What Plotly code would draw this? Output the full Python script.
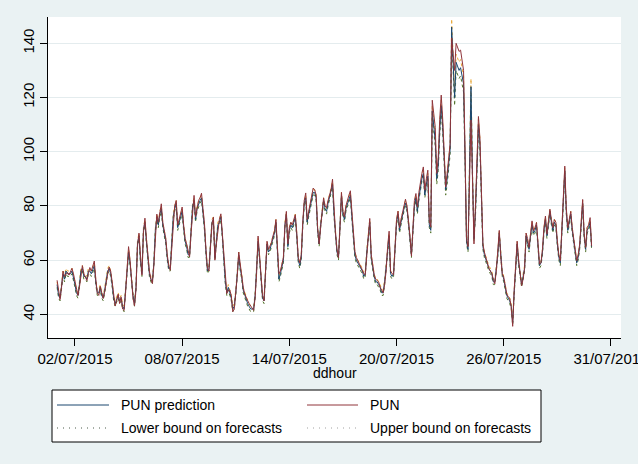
import plotly.graph_objects as go

# ---------------- data ----------------
# PUN and prediction, every 2 hours from 01/07/2015 00:00 (hour 0)
pun = [
    52.6, 48, 45.5, 50, 56, 54, 55, 55.5, 54.5, 56, 57, 55,
    52, 49.5, 47, 50, 55, 58, 55, 53.5, 52.5, 55, 57.3, 56,
    58, 59.7, 53, 48, 47, 50.4, 48, 45.9, 48.5, 52.6, 55, 57.5,
    56, 52, 47, 43.1, 45, 47.5, 44, 46.5, 42, 41.5, 48, 57,
    65, 60, 53.8, 46, 43.1, 49, 65, 70, 62, 54.5, 70, 75.5,
    68, 60, 56, 53, 51.4, 58, 70, 77, 74, 78, 80.8, 74,
    71, 68, 62, 58, 56.3, 65, 75, 80, 82, 73, 75, 78,
    79.6, 73, 68, 66, 63, 61.2, 70, 79, 83.9, 76, 80, 82,
    83, 84.7, 79, 73.5, 64, 57, 56, 65, 73, 75.9, 60, 66,
    72, 75, 77.1, 70, 61, 53, 47.7, 49, 49, 47, 41, 42,
    47, 54, 63, 58, 54.9, 50, 47.6, 46, 45.1, 44, 43, 42,
    41.5, 46, 55, 68.9, 62, 55, 47, 45, 58, 67, 64, 65,
    66.5, 69, 70.7, 75, 66, 55, 56, 58, 61, 72, 78, 66,
    72, 74, 73, 75, 76.8, 70, 61, 59, 62, 74, 82, 84.8,
    75, 78, 80.5, 84, 86.6, 86, 84, 72, 66, 72, 79, 83,
    80, 79.4, 82, 84.3, 86, 89.9, 78, 70, 64, 60.9, 72, 85,
    78, 76, 80, 82.5, 84, 85.6, 77, 70, 63.3, 61, 59.6, 58.5,
    57.5, 56.5, 55, 54.7, 62, 71, 75.4, 62, 58, 54.5, 53, 52.5,
    52, 50, 49, 48, 51, 56, 65, 70.7, 56, 55, 54.7, 65,
    75, 78.1, 72, 75, 78, 80, 82.5, 80, 75, 69, 61.5, 70,
    82, 84.6, 79.7, 85, 89.5, 92, 94.4, 85.8, 90, 93.2, 74.7, 72.3,
    119, 114, 109, 92, 98, 112, 120.9, 112, 100, 87, 92, 96.9,
    103, 142, 135, 130, 140, 138, 137, 137.5, 132.6, 130, 100, 68,
    65, 87, 111.7, 90, 66, 80, 97, 113, 105, 80, 66, 63,
    61, 58.5, 57, 56, 55, 53, 51.3, 56, 63, 71, 61, 55,
    53.7, 51, 47.6, 46.5, 46, 43, 35.6, 48.8, 60, 67, 60, 56,
    50.6, 53, 57, 70, 68, 64.7, 70, 74.5, 70.8, 72, 73.9, 65,
    58.6, 59, 64, 72, 76.3, 69.6, 74, 78.8, 75, 72, 75, 74,
    67.1, 62, 59.8, 72, 88, 94.7, 79.4, 72, 75, 78, 72, 68,
    62.3, 59.8, 62, 65.9, 74, 82.4, 70, 64.7, 72, 73, 75.7, 65.3,
]
pun_prediction = [
    51, 47, 46, 51, 55, 53, 56, 55, 55, 55, 56, 54,
    51, 48, 47, 51, 56, 57, 54, 54, 53, 56, 56, 55,
    57, 58, 52, 48, 48, 50, 47, 46, 49, 53, 56, 57,
    55, 51, 46, 44, 46, 47, 45, 46, 43, 42, 49, 58,
    63, 59, 52, 47, 44, 50, 66, 69, 60, 55, 71, 74,
    67, 59, 55, 53, 52, 59, 71, 76, 73, 77, 79, 73,
    70, 67, 61, 57, 57, 66, 76, 79, 81, 72, 74, 77,
    78, 72, 67, 65, 62, 62, 71, 80, 82, 75, 79, 81,
    82, 83, 78, 72, 63, 56, 57, 66, 74, 75, 61, 67,
    73, 74, 76, 69, 60, 52, 48, 50, 48, 46, 42, 43,
    48, 55, 62, 57, 54, 49, 47, 46, 44, 43, 42, 42,
    42, 47, 56, 67, 61, 54, 46, 45, 59, 66, 63, 64,
    66, 68, 70, 74, 65, 53, 55, 57, 60, 73, 77, 65,
    71, 73, 72, 74, 76, 69, 60, 58, 61, 73, 81, 83,
    74, 77, 80, 83, 85, 85, 83, 71, 66, 73, 78, 82,
    79, 78, 81, 83, 86, 88, 77, 69, 63, 61, 71, 84,
    77, 75, 79, 81, 83, 84, 76, 69, 62, 60, 59, 58,
    57, 56, 54, 55, 63, 70, 74, 61, 57, 54, 52, 52,
    51, 50, 48, 48, 52, 57, 64, 69, 55, 54, 55, 66,
    74, 77, 71, 74, 77, 79, 81, 79, 74, 68, 62, 71,
    80, 83, 78, 83, 87, 90, 92, 84, 88, 91, 73, 71,
    115, 110, 104, 90, 95, 108, 117, 109, 97, 86, 90, 95,
    101, 146, 130, 120, 133, 131, 130, 131, 127, 125, 98, 67,
    64, 90, 124, 92, 68, 78, 95, 110, 103, 79, 65, 62,
    60, 58, 57, 56, 55, 52, 52, 57, 62, 70, 60, 55,
    53, 50, 47, 46, 45, 43, 37, 48, 59, 66, 59, 55,
    51, 54, 57, 69, 67, 64, 69, 73, 70, 71, 73, 64,
    58, 59, 63, 71, 75, 69, 73, 78, 74, 71, 74, 73,
    66, 61, 59, 71, 86, 93, 78, 71, 74, 77, 71, 67,
    61, 59, 61, 65, 73, 81, 69, 64, 71, 72, 74, 65,
]
lower_bound = [
    50, 46, 45, 50, 54, 52, 55, 54, 54, 54, 55, 53,
    50, 47, 46, 50, 55, 56, 53, 53, 52, 55, 55, 54,
    56, 57, 51, 47, 47, 49, 46, 45, 48, 52, 55, 56,
    54, 50, 45, 43, 45, 46, 44, 45, 42, 41, 48, 57,
    62, 58, 51, 46, 43, 49, 65, 68, 59, 54, 70, 73,
    66, 58, 54, 52, 51, 58, 70, 75, 72, 76, 78, 72,
    69, 66, 60, 56, 56, 65, 75, 78, 80, 71, 73, 76,
    77, 71, 66, 64, 61, 61, 70, 79, 81, 74, 78, 80,
    81, 82, 77, 71, 62, 55, 56, 65, 73, 74, 60, 66,
    72, 73, 75, 68, 59, 51, 47, 49, 47, 45, 41, 42,
    47, 54, 61, 56, 53, 48, 46, 45, 43, 42, 41, 41,
    41, 46, 55, 66, 60, 53, 45, 44, 58, 65, 62, 63,
    65, 67, 69, 73, 64, 52, 54, 56, 59, 72, 76, 64,
    70, 72, 71, 73, 75, 68, 59, 57, 60, 72, 80, 82,
    73, 76, 79, 82, 84, 84, 82, 70, 65, 72, 77, 81,
    78, 77, 80, 82, 85, 87, 76, 68, 62, 60, 70, 83,
    76, 74, 78, 80, 82, 83, 75, 68, 61, 59, 58, 57,
    56, 55, 53, 54, 62, 69, 73, 60, 56, 53, 51, 51,
    50, 49, 47, 47, 51, 56, 63, 68, 54, 53, 54, 65,
    73, 76, 70, 73, 76, 78, 80, 78, 73, 67, 61, 70,
    79, 82, 77, 82, 86, 89, 91, 83, 87, 90, 72, 70,
    113, 108, 102, 88, 93, 106, 115, 107, 95, 84, 88, 93,
    99, 143, 127, 117, 130, 128, 127, 128, 124, 122, 96, 66,
    63, 88, 121, 90, 67, 76, 93, 108, 101, 77, 64, 61,
    59, 57, 56, 55, 54, 51, 51, 56, 61, 69, 59, 54,
    52, 49, 46, 45, 44, 42, 36, 47, 58, 65, 58, 54,
    50, 53, 56, 68, 66, 63, 68, 72, 69, 70, 72, 63,
    57, 58, 62, 70, 74, 68, 72, 77, 73, 70, 73, 72,
    65, 60, 58, 70, 85, 92, 77, 70, 73, 76, 70, 66,
    60, 58, 60, 64, 72, 80, 68, 63, 70, 71, 73, 64,
]
upper_bound = [
    52, 48, 47, 52, 56, 54, 57, 56, 56, 56, 57, 55,
    52, 49, 48, 52, 57, 58, 55, 55, 54, 57, 57, 56,
    58, 59, 53, 49, 49, 51, 48, 47, 50, 54, 57, 58,
    56, 52, 47, 45, 47, 48, 46, 47, 44, 43, 50, 59,
    64, 60, 53, 48, 45, 51, 67, 70, 61, 56, 72, 75,
    68, 60, 56, 54, 53, 60, 72, 77, 74, 78, 80, 74,
    71, 68, 62, 58, 58, 67, 77, 80, 82, 73, 75, 78,
    79, 73, 68, 66, 63, 63, 72, 81, 83, 76, 80, 82,
    83, 84, 79, 73, 64, 57, 58, 67, 75, 76, 62, 68,
    74, 75, 77, 70, 61, 53, 49, 51, 49, 47, 43, 44,
    49, 56, 63, 58, 55, 50, 48, 47, 45, 44, 43, 43,
    43, 48, 57, 68, 62, 55, 47, 46, 60, 67, 64, 65,
    67, 69, 71, 75, 66, 54, 56, 58, 61, 74, 78, 66,
    72, 74, 73, 75, 77, 70, 61, 59, 62, 74, 82, 84,
    75, 78, 81, 84, 86, 86, 84, 72, 67, 74, 79, 83,
    80, 79, 82, 84, 87, 89, 78, 70, 64, 62, 72, 85,
    78, 76, 80, 82, 84, 85, 77, 70, 63, 61, 60, 59,
    58, 57, 55, 56, 64, 71, 75, 62, 58, 55, 53, 53,
    52, 51, 49, 49, 53, 58, 65, 70, 56, 55, 56, 67,
    75, 78, 72, 75, 78, 80, 82, 80, 75, 69, 63, 72,
    81, 84, 79, 84, 88, 91, 93, 85, 89, 92, 74, 72,
    117, 112, 106, 92, 97, 110, 119, 111, 99, 88, 92, 97,
    103, 149, 133, 123, 136, 134, 133, 134, 130, 128, 100, 68,
    65, 92, 127, 94, 69, 80, 97, 112, 105, 81, 66, 63,
    61, 59, 58, 57, 56, 53, 53, 58, 63, 71, 61, 56,
    54, 51, 48, 47, 46, 44, 38, 49, 60, 67, 60, 56,
    52, 55, 58, 70, 68, 65, 70, 74, 71, 72, 74, 65,
    59, 60, 64, 72, 76, 70, 74, 79, 75, 72, 75, 74,
    67, 62, 60, 72, 87, 94, 79, 72, 75, 78, 72, 68,
    62, 60, 62, 66, 74, 82, 70, 65, 72, 73, 75, 66,
]
hours = list(range(0, 2 * len(pun), 2))

tick_hours = [24, 168, 312, 456, 600, 744]
tick_labels = ["02/07/2015", "08/07/2015", "14/07/2015", "20/07/2015",
               "26/07/2015", "31/07/2015"]
y_ticks = [40, 60, 80, 100, 120, 140]

series_names = ["PUN prediction", "PUN", "Lower bound on forecasts",
                "Upper bound on forecasts"]

# ---------------- styling ----------------
NAVY = "#1a476f"
MAROON = "#90353b"
GREEN = "#55752f"
ORANGE = "#e8a93a"
BG = "#EAF2F3"
FONT = "Liberation Sans, Arial, sans-serif"

W, H = 638, 464
L, R, T, B = 48, 17, 17, 126
PW, PH = W - L - R, H - T - B


def px(x):
    return (x - L) / PW


def py(y):
    return (H - B - y) / PH


fig = go.Figure()
fig.add_trace(go.Scatter(x=hours, y=lower_bound, mode="lines",
                         line=dict(color=GREEN, width=1, dash="dot"),
                         name=series_names[2], showlegend=False))
fig.add_trace(go.Scatter(x=hours, y=upper_bound, mode="lines",
                         line=dict(color=ORANGE, width=1, dash="dot"),
                         name=series_names[3], showlegend=False))
fig.add_trace(go.Scatter(x=hours, y=pun_prediction, mode="lines",
                         line=dict(color=NAVY, width=1),
                         name=series_names[0], showlegend=False))
fig.add_trace(go.Scatter(x=hours, y=pun, mode="lines",
                         line=dict(color=MAROON, width=1),
                         name=series_names[1], showlegend=False))

fig.update_layout(
    width=W, height=H,
    margin=dict(l=L, r=R, t=T, b=B, pad=0, autoexpand=False),
    paper_bgcolor=BG, plot_bgcolor="white",
    font=dict(family=FONT, size=15, color="black"),
    showlegend=False,
)
fig.update_xaxes(
    range=[-12.2, 757.5], tickmode="array", tickvals=tick_hours,
    ticktext=tick_labels, ticks="outside", ticklen=7, tickcolor="black",
    tickwidth=1, showline=True, linecolor="black", linewidth=1,
    showgrid=False, zeroline=False, tickfont=dict(size=15),
    ticklabeloverflow="allow", automargin=False,
)
fig.update_yaxes(
    range=[31.3, 149.7], tickmode="array", tickvals=y_ticks,
    ticks="outside", ticklen=7, tickcolor="black", tickwidth=1,
    showline=True, linecolor="black", linewidth=1, tickangle=-90,
    showgrid=True, gridcolor="#E4ECEE", gridwidth=1, zeroline=False,
    tickfont=dict(size=15), automargin=False,
)

# axis title
fig.add_annotation(text="ddhour", x=px(334.5), y=py(373), xref="paper",
                   yref="paper", showarrow=False, xanchor="center",
                   yanchor="middle", font=dict(size=14))

# legend box
fig.add_shape(type="rect", xref="paper", yref="paper", x0=px(52), x1=px(541),
              y0=py(442), y1=py(390), line=dict(color="black", width=1),
              fillcolor="white", layer="above")
legend_items = [
    (series_names[0], NAVY, "solid", 57, 109, 119, 405),
    (series_names[1], MAROON, "solid", 307, 358, 368, 405),
    (series_names[2], "#4a5a4a", "1px,5px", 57, 109, 119, 428),
    (series_names[3], "#a0a0a0", "1px,5px", 307, 358, 368, 428),
]
for name, col, dash, sx0, sx1, tx, ty in legend_items:
    fig.add_shape(type="line", xref="paper", yref="paper", x0=px(sx0),
                  x1=px(sx1), y0=py(ty), y1=py(ty),
                  line=dict(color=col, width=1, dash=dash), layer="above")
    fig.add_annotation(text=name, x=px(tx), y=py(ty), xref="paper",
                       yref="paper", showarrow=False, xanchor="left",
                       yanchor="middle", font=dict(size=14))

fig.write_html(
    "out.html",
    config={"displayModeBar": False},
    post_script=(
        "document.documentElement.style.overflow='hidden';"
        "document.body.style.margin='0';"
        "document.body.style.overflow='hidden';"
        "var gd=document.getElementsByClassName('plotly-graph-div')[0];"
        "gd.style.overflow='hidden';"
        "gd.parentElement.style.overflow='hidden';"
        "gd.parentElement.style.width='638px';"
    ),
)
